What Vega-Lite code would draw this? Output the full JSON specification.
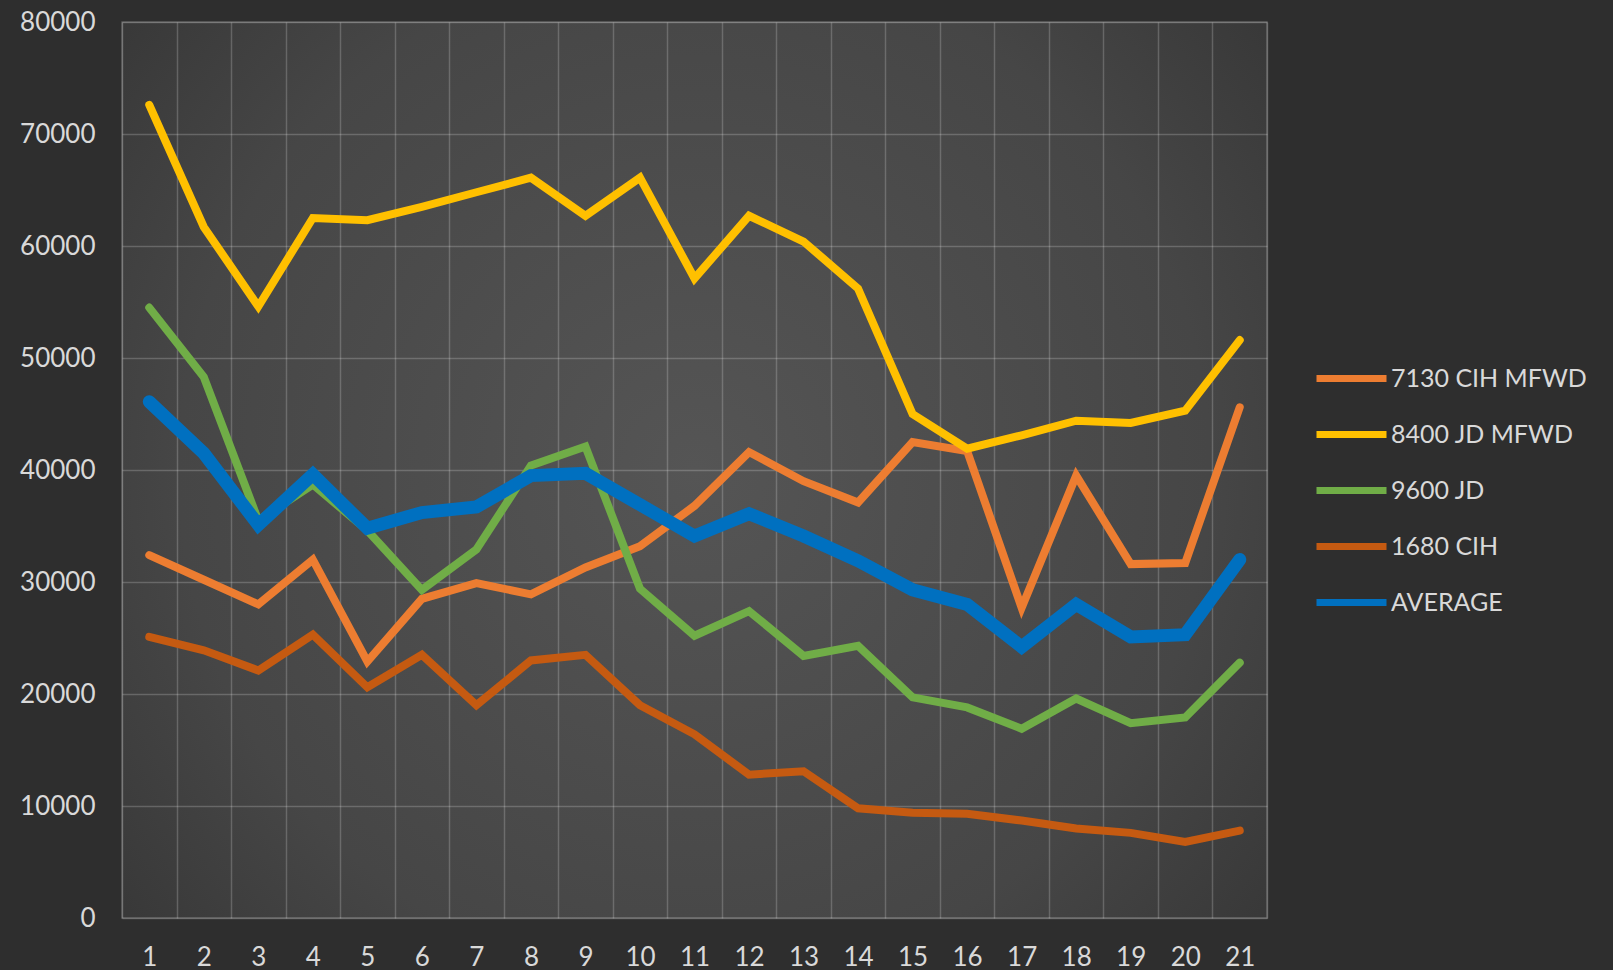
{
  "$schema": "https://vega.github.io/schema/vega-lite/v6.json",
  "autosize": {"type": "none"},
  "padding": {"left": 122, "top": 22, "right": 346, "bottom": 52},
  "width": 1145,
  "height": 896,
  "background": "#2e2e2e",
  "config": {
    "font": "Lato",
    "view": {
      "stroke": "#ffffff",
      "strokeOpacity": 0.2,
      "strokeWidth": 1.5,
      "fill": {
        "gradient": "radial",
        "x1": 0.5, "y1": 0.5, "r1": 0,
        "x2": 0.5, "y2": 0.5, "r2": 0.75,
        "stops": [
          {"offset": 0, "color": "#555555"},
          {"offset": 0.6, "color": "#464646"},
          {"offset": 1, "color": "#303030"}
        ]
      }
    },
    "axis": {
      "labelColor": "#d9d9d9",
      "labelFont": "Lato",
      "labelFontSize": 26,
      "domain": false,
      "ticks": false,
      "title": null,
      "gridColor": "#ffffff",
      "gridOpacity": 0.2,
      "gridWidth": 1.5
    },
    "legend": {
      "labelColor": "#d9d9d9",
      "labelFont": "Lato",
      "labelFontSize": 25
    }
  },
  "data": {
    "values": [
      {"x": 1, "series": "7130 CIH MFWD", "value": 32400},
      {"x": 2, "series": "7130 CIH MFWD", "value": 30200},
      {"x": 3, "series": "7130 CIH MFWD", "value": 28000},
      {"x": 4, "series": "7130 CIH MFWD", "value": 32000},
      {"x": 5, "series": "7130 CIH MFWD", "value": 22900},
      {"x": 6, "series": "7130 CIH MFWD", "value": 28500},
      {"x": 7, "series": "7130 CIH MFWD", "value": 29900},
      {"x": 8, "series": "7130 CIH MFWD", "value": 28900},
      {"x": 9, "series": "7130 CIH MFWD", "value": 31300},
      {"x": 10, "series": "7130 CIH MFWD", "value": 33200},
      {"x": 11, "series": "7130 CIH MFWD", "value": 36800},
      {"x": 12, "series": "7130 CIH MFWD", "value": 41600},
      {"x": 13, "series": "7130 CIH MFWD", "value": 39000},
      {"x": 14, "series": "7130 CIH MFWD", "value": 37100},
      {"x": 15, "series": "7130 CIH MFWD", "value": 42500},
      {"x": 16, "series": "7130 CIH MFWD", "value": 41700},
      {"x": 17, "series": "7130 CIH MFWD", "value": 27700},
      {"x": 18, "series": "7130 CIH MFWD", "value": 39500},
      {"x": 19, "series": "7130 CIH MFWD", "value": 31600},
      {"x": 20, "series": "7130 CIH MFWD", "value": 31700},
      {"x": 21, "series": "7130 CIH MFWD", "value": 45600},
      {"x": 1, "series": "8400 JD MFWD", "value": 72600},
      {"x": 2, "series": "8400 JD MFWD", "value": 61700},
      {"x": 3, "series": "8400 JD MFWD", "value": 54600},
      {"x": 4, "series": "8400 JD MFWD", "value": 62500},
      {"x": 5, "series": "8400 JD MFWD", "value": 62300},
      {"x": 6, "series": "8400 JD MFWD", "value": 63500},
      {"x": 7, "series": "8400 JD MFWD", "value": 64800},
      {"x": 8, "series": "8400 JD MFWD", "value": 66100},
      {"x": 9, "series": "8400 JD MFWD", "value": 62700},
      {"x": 10, "series": "8400 JD MFWD", "value": 66100},
      {"x": 11, "series": "8400 JD MFWD", "value": 57100},
      {"x": 12, "series": "8400 JD MFWD", "value": 62700},
      {"x": 13, "series": "8400 JD MFWD", "value": 60400},
      {"x": 14, "series": "8400 JD MFWD", "value": 56200},
      {"x": 15, "series": "8400 JD MFWD", "value": 45000},
      {"x": 16, "series": "8400 JD MFWD", "value": 41900},
      {"x": 17, "series": "8400 JD MFWD", "value": 43100},
      {"x": 18, "series": "8400 JD MFWD", "value": 44400},
      {"x": 19, "series": "8400 JD MFWD", "value": 44200},
      {"x": 20, "series": "8400 JD MFWD", "value": 45300},
      {"x": 21, "series": "8400 JD MFWD", "value": 51600},
      {"x": 1, "series": "9600 JD", "value": 54500},
      {"x": 2, "series": "9600 JD", "value": 48300},
      {"x": 3, "series": "9600 JD", "value": 35500},
      {"x": 4, "series": "9600 JD", "value": 38700},
      {"x": 5, "series": "9600 JD", "value": 34600},
      {"x": 6, "series": "9600 JD", "value": 29300},
      {"x": 7, "series": "9600 JD", "value": 32900},
      {"x": 8, "series": "9600 JD", "value": 40400},
      {"x": 9, "series": "9600 JD", "value": 42100},
      {"x": 10, "series": "9600 JD", "value": 29400},
      {"x": 11, "series": "9600 JD", "value": 25200},
      {"x": 12, "series": "9600 JD", "value": 27400},
      {"x": 13, "series": "9600 JD", "value": 23400},
      {"x": 14, "series": "9600 JD", "value": 24300},
      {"x": 15, "series": "9600 JD", "value": 19700},
      {"x": 16, "series": "9600 JD", "value": 18800},
      {"x": 17, "series": "9600 JD", "value": 16900},
      {"x": 18, "series": "9600 JD", "value": 19600},
      {"x": 19, "series": "9600 JD", "value": 17400},
      {"x": 20, "series": "9600 JD", "value": 17900},
      {"x": 21, "series": "9600 JD", "value": 22800},
      {"x": 1, "series": "1680 CIH", "value": 25100},
      {"x": 2, "series": "1680 CIH", "value": 23900},
      {"x": 3, "series": "1680 CIH", "value": 22100},
      {"x": 4, "series": "1680 CIH", "value": 25300},
      {"x": 5, "series": "1680 CIH", "value": 20600},
      {"x": 6, "series": "1680 CIH", "value": 23500},
      {"x": 7, "series": "1680 CIH", "value": 19000},
      {"x": 8, "series": "1680 CIH", "value": 23000},
      {"x": 9, "series": "1680 CIH", "value": 23500},
      {"x": 10, "series": "1680 CIH", "value": 19000},
      {"x": 11, "series": "1680 CIH", "value": 16400},
      {"x": 12, "series": "1680 CIH", "value": 12800},
      {"x": 13, "series": "1680 CIH", "value": 13100},
      {"x": 14, "series": "1680 CIH", "value": 9800},
      {"x": 15, "series": "1680 CIH", "value": 9400},
      {"x": 16, "series": "1680 CIH", "value": 9300},
      {"x": 17, "series": "1680 CIH", "value": 8700},
      {"x": 18, "series": "1680 CIH", "value": 8000},
      {"x": 19, "series": "1680 CIH", "value": 7600},
      {"x": 20, "series": "1680 CIH", "value": 6800},
      {"x": 21, "series": "1680 CIH", "value": 7800},
      {"x": 1, "series": "AVERAGE", "value": 46100},
      {"x": 2, "series": "AVERAGE", "value": 41500},
      {"x": 3, "series": "AVERAGE", "value": 35100},
      {"x": 4, "series": "AVERAGE", "value": 39600},
      {"x": 5, "series": "AVERAGE", "value": 34800},
      {"x": 6, "series": "AVERAGE", "value": 36200},
      {"x": 7, "series": "AVERAGE", "value": 36700},
      {"x": 8, "series": "AVERAGE", "value": 39500},
      {"x": 9, "series": "AVERAGE", "value": 39700},
      {"x": 10, "series": "AVERAGE", "value": 36900},
      {"x": 11, "series": "AVERAGE", "value": 34100},
      {"x": 12, "series": "AVERAGE", "value": 36100},
      {"x": 13, "series": "AVERAGE", "value": 34100},
      {"x": 14, "series": "AVERAGE", "value": 31900},
      {"x": 15, "series": "AVERAGE", "value": 29300},
      {"x": 16, "series": "AVERAGE", "value": 28000},
      {"x": 17, "series": "AVERAGE", "value": 24200},
      {"x": 18, "series": "AVERAGE", "value": 28000},
      {"x": 19, "series": "AVERAGE", "value": 25100},
      {"x": 20, "series": "AVERAGE", "value": 25300},
      {"x": 21, "series": "AVERAGE", "value": 32000}
    ]
  },
  "encoding": {
    "x": {
      "field": "x",
      "type": "ordinal",
      "scale": {"type": "band", "paddingInner": 0, "paddingOuter": 0},
      "axis": {"labelAngle": 0, "grid": true, "tickBand": "extent", "labelPadding": 26}
    },
    "y": {
      "field": "value",
      "type": "quantitative",
      "scale": {"domain": [0, 80000], "nice": false},
      "axis": {"values": [0, 10000, 20000, 30000, 40000, 50000, 60000, 70000, 80000], "format": "d", "labelPadding": 27, "grid": true}
    },
    "color": {
      "field": "series",
      "type": "nominal",
      "scale": {
        "domain": ["7130 CIH MFWD", "8400 JD MFWD", "9600 JD", "1680 CIH", "AVERAGE"],
        "range": ["#ED7D31", "#FFC000", "#70AD47", "#C55A11", "#0070C0"]
      },
      "legend": {
        "title": null,
        "orient": "none",
        "legendX": 1191,
        "legendY": 318,
        "symbolType": "stroke",
        "symbolSize": 4900,
        "symbolStrokeWidth": 7,
        "labelOffset": 1,
        "labelLimit": 0,
        "rowPadding": 3,
        "padding": 0
      }
    }
  },
  "layer": [
    {
      "transform": [{"filter": "datum.series !== 'AVERAGE'"}],
      "mark": {"type": "line", "strokeWidth": 8, "strokeCap": "round", "strokeJoin": "miter"}
    },
    {
      "transform": [{"filter": "datum.series === 'AVERAGE'"}],
      "mark": {"type": "line", "strokeWidth": 13, "strokeCap": "round", "strokeJoin": "miter"}
    }
  ]
}
